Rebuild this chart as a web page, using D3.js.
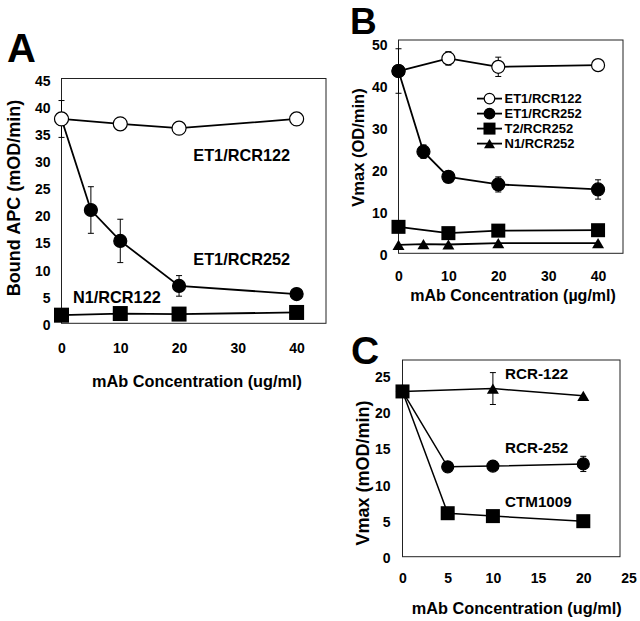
<!DOCTYPE html>
<html><head><meta charset="utf-8">
<script src="https://cdn.jsdelivr.net/npm/d3@7"></script>
<style>
body{margin:0;background:#fff}
svg{display:block}
text{font-family:'Liberation Sans',Arial,Helvetica,sans-serif;font-weight:bold;fill:#000}
</style>
</head><body>
<svg id="chart" width="640" height="621"></svg>
<script>
// ---------- DATA ----------
// Panel A
const aXTicks = [0, 10, 20, 30, 40];
const aYTicks = [0, 5, 10, 15, 20, 25, 30, 35, 40, 45];
const aOpenX = [0, 10, 20, 40];
const aOpenY = [37.7, 36.8, 36.0, 37.7];
const aOpenErr = [3.4, 0, 0, 0];
const aFillX = [0, 5, 10, 20, 40];
const aFillY = [37.7, 20.9, 15.2, 6.9, 5.4];
const aFillErr = [0, 4.3, 4.0, 1.9, 0];
const aSqX = [0, 10, 20, 40];
const aSqY = [1.5, 1.8, 1.7, 2.0];
const aLabels = ["ET1/RCR122", "ET1/RCR252", "N1/RCR122"];

// Panel B
const bXTicks = [0, 10, 20, 30, 40];
const bYTicks = [0, 10, 20, 30, 40, 50];
const bOpenX = [0, 10, 20, 40];
const bOpenY = [43.4, 46.4, 44.4, 44.8];
const bOpenErr = [0, 1.6, 2.3, 0];
const bFillX = [0, 5, 10, 20, 40];
const bFillY = [43.4, 24.2, 18.2, 16.4, 15.2];
const bFillErr = [5.3, 1.6, 0, 1.8, 2.3];
const bSqX = [0, 10, 20, 40];
const bSqY = [6.3, 4.8, 5.4, 5.5];
const bTriX = [0, 5, 10, 20, 40];
const bTriY = [2.0, 2.2, 2.1, 2.4, 2.4];
const bLegend = ["ET1/RCR122", "ET1/RCR252", "T2/RCR252", "N1/RCR252"];

// Panel C
const cXTicks = [0, 5, 10, 15, 20, 25];
const cYTicks = [0, 5, 10, 15, 20, 25];
const cTriX = [0, 10, 20];
const cTriY = [22.8, 23.2, 22.2];
const cTriErr = [0, 2.2, 0];
const cCircX = [0, 5, 10, 20];
const cCircY = [22.8, 12.4, 12.5, 12.8];
const cCircErr = [0, 0, 0, 1.05];
const cSqX = [0, 5, 10, 20];
const cSqY = [22.8, 6.0, 5.6, 4.9];
const cLabels = ["RCR-122", "RCR-252", "CTM1009"];

// ---------- DRAWING ----------
const svg = d3.select("#chart");
const zip = (xs, ys, es) => xs.map((x, i) => ({x, y: ys[i], e: es ? es[i] : 0}));

function panel(cfg) {
  const g = svg.append("g");
  const x = d3.scaleLinear().domain(cfg.xDomain).range(cfg.xRange);
  const y = d3.scaleLinear().domain(cfg.yDomain).range(cfg.yRange);
  g.append("rect").attr("x", cfg.frame[0]).attr("y", cfg.frame[1])
    .attr("width", cfg.frame[2] - cfg.frame[0]).attr("height", cfg.frame[3] - cfg.frame[1])
    .attr("fill", "none").attr("stroke", "#222").attr("stroke-width", 1);
  const ya = d3.axisLeft(y).tickValues(cfg.yTicks).tickSize(0).tickPadding(cfg.yPad).tickFormat(d3.format("d"));
  const yg = g.append("g").attr("transform", `translate(${cfg.frame[0]},${cfg.yOff})`).call(ya);
  yg.select(".domain").remove();
  yg.selectAll("text").style("font-size", cfg.tickFont + "px").attr("font-family", null);
  const xa = d3.axisBottom(x).tickValues(cfg.xTicks).tickSize(0).tickPadding(0).tickFormat(d3.format("d"));
  const xg = g.append("g").attr("transform", `translate(0,${cfg.xLabelY})`).call(xa);
  xg.select(".domain").remove();
  xg.selectAll("text").attr("dy", null).attr("y", 0).style("font-size", cfg.tickFont + "px").attr("font-family", null);
  g.append("text").attr("x", cfg.xTitle[0]).attr("y", cfg.xTitle[1]).attr("text-anchor", "middle")
    .style("font-size", cfg.xTitleFont + "px").text(cfg.xTitleText);
  g.append("text").attr("transform", `translate(${cfg.yTitle[0]},${cfg.yTitle[1]}) rotate(-90)`)
    .attr("text-anchor", "middle").style("font-size", cfg.yTitleFont + "px").text(cfg.yTitleText);
  g.append("text").attr("x", cfg.letter[0]).attr("y", cfg.letter[1])
    .style("font-size", cfg.letterFont + "px").text(cfg.letterText);
  return {g, x, y};
}

const line = (x, y) => d3.line().x(d => x(d.x)).y(d => y(d.y));

function series(P, data, marker, size, opts = {}) {
  const {g, x, y} = P;
  g.append("path").datum(data).attr("d", line(x, y)).attr("fill", "none")
    .attr("stroke", "#000").attr("stroke-width", opts.lw || 1.8);
  const eb = data.filter(d => d.e > 0);
  const eg = g.append("g").attr("stroke", "#000").attr("stroke-width", 1);
  eb.forEach(d => {
    const cx = x(d.x), y1 = y(d.y + d.e), y2 = y(d.y - d.e);
    eg.append("line").attr("x1", cx).attr("x2", cx).attr("y1", y1).attr("y2", y2);
    eg.append("line").attr("x1", cx - 3).attr("x2", cx + 3).attr("y1", y1).attr("y2", y1);
    eg.append("line").attr("x1", cx - 3).attr("x2", cx + 3).attr("y1", y2).attr("y2", y2);
  });
  drawMarkers(g, data.map(d => [x(d.x), y(d.y)]), marker, size);
}

function drawMarkers(g, pts, marker, size) {
  pts.forEach(([cx, cy]) => {
    if (marker === "open" || marker === "fill") {
      g.append("circle").attr("cx", cx).attr("cy", cy).attr("r", size)
        .attr("fill", marker === "open" ? "#fff" : "#000").attr("stroke", "#000").attr("stroke-width", 1.2);
    } else if (marker === "square") {
      g.append("rect").attr("x", cx - size / 2).attr("y", cy - size / 2)
        .attr("width", size).attr("height", size).attr("fill", "#000");
    } else if (marker === "tri") {
      const w = size, h = size * 0.85;
      g.append("path").attr("d", `M${cx},${cy - h / 2}L${cx + w / 2},${cy + h / 2}L${cx - w / 2},${cy + h / 2}Z`)
        .attr("fill", "#000");
    }
  });
}

// ----- Panel A -----
const A = panel({
  xDomain: [0, 45], xRange: [61.5, 326], yDomain: [0, 45], yRange: [323.3, 79.4],
  frame: [61.5, 78.5, 326, 323.3], yTicks: aYTicks, xTicks: aXTicks, yPad: 11, yOff: 1.5,
  tickFont: 14, xLabelY: 352.7, xTitle: [197, 387], xTitleFont: 16.3,
  xTitleText: "mAb Concentration (ug/ml)", yTitle: [20, 198], yTitleFont: 18,
  yTitleText: "Bound APC (mOD/min)", letter: [7, 62], letterFont: 40, letterText: "A"
});
series(A, zip(aSqX, aSqY), "square", 15);
series(A, zip(aFillX, aFillY, aFillErr), "fill", 6.5);
series(A, zip(aOpenX, aOpenY, aOpenErr), "open", 7);
A.g.append("text").attr("x", 241.7).attr("y", 161).attr("text-anchor", "middle").style("font-size", "16.3px").text(aLabels[0]);
A.g.append("text").attr("x", 241.7).attr("y", 265).attr("text-anchor", "middle").style("font-size", "16.3px").text(aLabels[1]);
A.g.append("text").attr("x", 73).attr("y", 302.7).style("font-size", "16.3px").text(aLabels[2]);

// ----- Panel B -----
const B = panel({
  xDomain: [0, 45], xRange: [398.5, 623], yDomain: [0, 50], yRange: [253.3, 43.3],
  frame: [398.5, 40, 623, 253.3], yTicks: bYTicks, xTicks: bXTicks, yPad: 11, yOff: 1.5,
  tickFont: 14, xLabelY: 281, xTitle: [513, 301], xTitleFont: 16,
  xTitleText: "mAb Concentration (\u00b5g/ml)", yTitle: [364, 147.5], yTitleFont: 16.5,
  yTitleText: "Vmax (OD/min)", letter: [350, 33.5], letterFont: 37, letterText: "B"
});
series(B, zip(bTriX, bTriY), "tri", 12);
series(B, zip(bSqX, bSqY), "square", 14);
series(B, zip(bOpenX, bOpenY, bOpenErr), "open", 6.5);
series(B, zip(bFillX, bFillY, bFillErr), "fill", 6.5);
const legMarkers = [["open", 5.3], ["fill", 5.3], ["square", 12], ["tri", 11]];
const legY = [98.6, 113.6, 128.6, 143.6];
bLegend.forEach((t, i) => {
  B.g.append("line").attr("x1", 477).attr("x2", 502).attr("y1", legY[i]).attr("y2", legY[i])
    .attr("stroke", "#000").attr("stroke-width", 1.8);
  drawMarkers(B.g, [[489.5, legY[i]]], legMarkers[i][0], legMarkers[i][1]);
  B.g.append("text").attr("x", 504.5).attr("y", legY[i] + 4.8).style("font-size", "13px").text(t);
});

// ----- Panel C -----
const C = panel({
  xDomain: [0, 20], xRange: [402.5, 583.3], yDomain: [0, 25], yRange: [556.7, 375.5],
  frame: [402.5, 360, 620, 556.7], yTicks: cYTicks, xTicks: cXTicks, yPad: 12, yOff: 1.5,
  tickFont: 14, xLabelY: 583, xTitle: [516.7, 614], xTitleFont: 16.3,
  xTitleText: "mAb Concentration (ug/ml)", yTitle: [369, 473], yTitleFont: 18,
  yTitleText: "Vmax (mOD/min)", letter: [351, 364], letterFont: 39, letterText: "C"
});
series(C, zip(cTriX, cTriY, cTriErr), "tri", 12, {lw: 1.5});
series(C, zip(cCircX, cCircY, cCircErr), "fill", 6, {lw: 1.5});
series(C, zip(cSqX, cSqY), "square", 14, {lw: 1.5});
C.g.append("text").attr("x", 505).attr("y", 379.3).style("font-size", "15.2px").text(cLabels[0]);
C.g.append("text").attr("x", 505).attr("y", 453.3).style("font-size", "15.2px").text(cLabels[1]);
C.g.append("text").attr("x", 505).attr("y", 506.7).style("font-size", "15.2px").text(cLabels[2]);
</script>
</body></html>
